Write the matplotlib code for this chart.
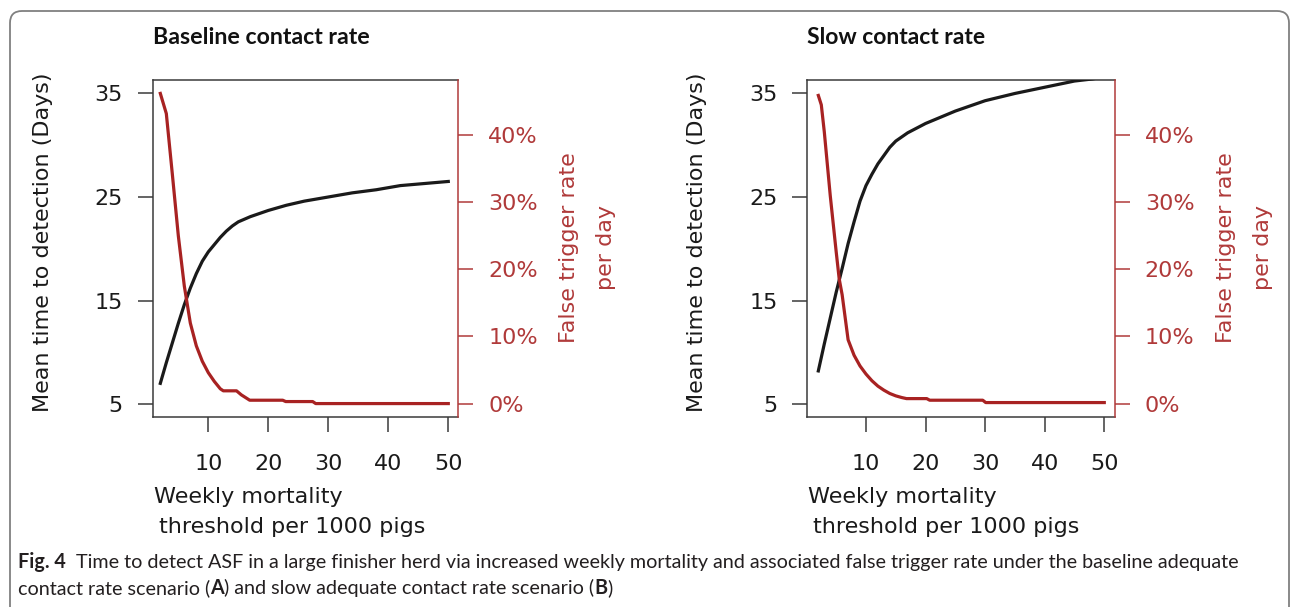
import matplotlib
matplotlib.use('Agg')
import matplotlib.pyplot as plt
from matplotlib.patches import FancyBboxPatch

# ---------------- data ----------------
thresholds_base_days = [2, 3, 4, 5, 6, 7, 8, 9, 10, 11, 12, 13, 14, 15, 17, 20, 23, 26, 30, 34, 38, 42, 46, 50]
days_base = [7.0, 9.0, 10.9, 12.8, 14.6, 16.2, 17.6, 18.8, 19.7, 20.4, 21.1, 21.7, 22.2, 22.6,
             23.1, 23.7, 24.2, 24.6, 25.0, 25.4, 25.7, 26.1, 26.3, 26.5]

thresholds_base_false = [2, 3, 4, 5, 6, 7, 8, 9, 10, 11, 12, 12.5, 14.7, 15.5, 16.9, 22.4, 22.9, 27.4, 27.9, 50]
false_base = [46.2, 43.2, 34.2, 25.0, 17.5, 12.0, 8.6, 6.3, 4.6, 3.3, 2.2, 1.9, 1.9, 1.3, 0.5, 0.5,
              0.3, 0.3, 0.0, 0.0]

thresholds_slow_days = [2, 3, 4, 5, 6, 7, 8, 9, 10, 11, 12, 13, 14, 15, 17, 20, 25, 30, 35, 40, 45, 48, 50]
days_slow = [8.2, 10.8, 13.3, 15.8, 18.1, 20.5, 22.6, 24.6, 26.1, 27.2, 28.2, 29.0, 29.8, 30.4,
             31.2, 32.1, 33.3, 34.3, 35.0, 35.6, 36.2, 36.4, 36.6]

thresholds_slow_false = [2, 2.5, 3, 4, 5, 5.5, 6, 7, 8, 9, 10, 11, 12, 13, 14, 15, 16, 16.8, 20.2,
                         20.7, 29.6, 30.1, 50]
false_slow = [45.9, 44.5, 40.5, 31.0, 22.6, 18.6, 16.2, 9.5, 7.2, 5.6, 4.4, 3.4, 2.6, 2.0, 1.5, 1.15,
              0.9, 0.74, 0.74, 0.5, 0.5, 0.15, 0.15]

panel_titles = ["Baseline contact rate", "Slow contact rate"]
x_ticks = [10, 20, 30, 40, 50]
days_ticks = [5, 15, 25, 35]
pct_ticks = [0, 10, 20, 30, 40]
pct_labels = ["0%", "10%", "20%", "30%", "40%"]
ylabel_left = "Mean time to detection (Days)"
ylabel_right = ["False trigger rate", "per day"]
xlabel_lines = ["Weekly mortality", "threshold per 1000 pigs"]

# ---------------- figure ----------------
W, H = 1293, 607
plt.rcParams['font.family'] = ['DejaVu Sans']
fig = plt.figure(figsize=(W / 100, H / 100), dpi=100)
fig.patch.set_facecolor('white')


def fx(x):
    return x / W


def fy(y):
    return 1 - y / H


BLACK = '#1a1a1a'
SPINE = '#3a3a3a'
RED = '#a82222'
RED_TXT = '#b03a3a'
TOP, BOTTOM = 80, 417
FS = 16

panels = [
    dict(left=152.7, right=458.3, xlim=(0.73, 51.67),
         xd=thresholds_base_days, yd=days_base, xf=thresholds_base_false, yf=false_base,
         title=panel_titles[0], title_w=218),
    dict(left=807.3, right=1115.0, xlim=(0.15, 51.8),
         xd=thresholds_slow_days, yd=days_slow, xf=thresholds_slow_false, yf=false_slow,
         title=panel_titles[1], title_w=180),
]

renderer = fig.canvas.get_renderer()


def fit_width(t, target):
    w = t.get_window_extent(renderer).width
    t.set_fontsize(t.get_fontsize() * target / w)


for p in panels:
    L, R = p['left'], p['right']
    ax = fig.add_axes([fx(L), fy(BOTTOM), (R - L) / W, (BOTTOM - TOP) / H])
    ax.plot(p['xd'], p['yd'], color=BLACK, lw=2.3, solid_joinstyle='round', zorder=3)
    ax.set_xlim(*p['xlim'])
    ax.set_ylim(3.75, 36.3)
    ax.set_xticks(x_ticks)
    ax.set_yticks(days_ticks)
    ax.tick_params(axis='both', direction='out', length=10.5, width=1.1, color=SPINE,
                   labelsize=FS, labelcolor=BLACK)
    ax.tick_params(axis='x', pad=16)
    ax.tick_params(axis='y', pad=11)
    for s in ['left', 'top', 'bottom']:
        ax.spines[s].set_color(SPINE)
        ax.spines[s].set_linewidth(1.1)
    ax.spines['right'].set_visible(False)

    ax2 = ax.twinx()
    ax2.plot(p['xf'], p['yf'], color=RED, lw=2.3, solid_joinstyle='round', zorder=3)
    ax2.set_ylim(-2.0, 48.2)
    ax2.set_yticks(pct_ticks)
    ax2.set_yticklabels(pct_labels)
    ax2.tick_params(axis='y', direction='out', length=10.5, width=1.1, color=RED_TXT,
                    labelsize=FS, labelcolor=RED_TXT, pad=11)
    for s in ['left', 'top', 'bottom']:
        ax2.spines[s].set_visible(False)
    ax2.spines['right'].set_color(RED_TXT)
    ax2.spines['right'].set_linewidth(1.1)

    # titles
    t = fig.text(fx(L), fy(37), p['title'], ha='left', va='center', fontsize=14,
                 fontweight='bold', family=['Lato', 'DejaVu Sans'], color='#111111')
    fit_width(t, p['title_w'])

    # left y label
    fig.text(fx(L - 110), fy(242), ylabel_left, rotation=90, ha='center', va='center',
             fontsize=FS, color=BLACK)
    # right y label (two lines)
    fig.text(fx(R + 111), fy(248), ylabel_right[0], rotation=90, ha='center', va='center',
             fontsize=FS, color=RED_TXT)
    fig.text(fx(R + 148), fy(248), ylabel_right[1], rotation=90, ha='center', va='center',
             fontsize=FS, color=RED_TXT)
    # x label (two lines)
    fig.text(fx(L + 1), fy(497), xlabel_lines[0], ha='left', va='center', fontsize=FS, color=BLACK)
    fig.text(fx(L + 6), fy(527), xlabel_lines[1], ha='left', va='center', fontsize=FS, color=BLACK)

# ---------------- caption ----------------
CAP_FAM = ['Lato', 'DejaVu Sans']
CAP_COL = '#231f20'
line1 = [("Fig. 4", 'bold'), (None, 10),
         ("Time to detect ASF in a large finisher herd via increased weekly mortality and associated "
          "false trigger rate under the baseline adequate", 'normal')]
line2 = [("contact rate scenario (", 'normal'), ("A", 'bold'),
         (") and slow adequate contact rate scenario (", 'normal'), ("B", 'bold'), (")", 'normal')]


def draw_pieces(x, y, pieces, size):
    texts = []
    for txt, wt in pieces:
        if txt is None:
            x += wt
            continue
        t = fig.text(fx(x), fy(y), txt, fontsize=size, fontweight=wt, family=CAP_FAM,
                     ha='left', va='baseline', color=CAP_COL)
        texts.append(t)
        x += t.get_window_extent(renderer).width
    return x, texts


x0 = 18
size0 = 11
end, tmp = draw_pieces(x0, 568, line1, size0)
for t in tmp:
    t.remove()
cap_size = size0 * (1236 - x0 - 10) / (end - x0 - 10)
draw_pieces(x0, 568, line1, cap_size)
draw_pieces(x0, 594, line2, cap_size)

# ---------------- outer rounded frame ----------------
frame = FancyBboxPatch((10, -30), 1279, 596 + 30, boxstyle="round,pad=0,rounding_size=12",
                       transform=None, facecolor='none', edgecolor='#808080', linewidth=1.3)
fig.add_artist(frame)

fig.savefig('out.png', dpi=100, facecolor='white')
